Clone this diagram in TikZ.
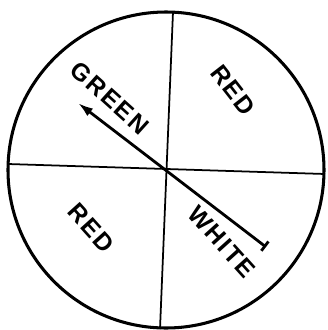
\documentclass[tikz,border=0pt]{standalone}
\usepackage{fontspec}
\setsansfont{Liberation Sans}
\usetikzlibrary{arrows.meta}

\tikzset{
  rim/.style={line width=2.6pt, black},
  divider/.style={line width=1.5pt, black},
  pointer/.style={line width=2.4pt, black, {Bar[width=10pt]}-{Latex[length=13pt, width=8pt]}},
  sector/.style={font=\fontsize{21}{21}\sffamily\bfseries\addfontfeature{LetterSpace=8}, inner sep=0pt}
}

\begin{document}
\begin{tikzpicture}[x=0.03cm, y=-0.03cm]
  \useasboundingbox (0,0) rectangle (327,330);

  % Wheel rim
  \node[circle, minimum size=316*0.03cm, inner sep=0pt, rim, draw] (wheel) at (166,170) {};

  % Dividing lines through the hub
  \coordinate (hub) at (167,170);
  \coordinate (top) at (173,12);
  \coordinate (bottom) at (160,329);
  \coordinate (left) at (8,164);
  \coordinate (right) at (325,174);
  \draw[divider] (top) -- (bottom);
  \draw[divider] (left) -- (right);

  % Pointer
  \coordinate (tail) at (266,247);
  \coordinate (tip) at (78,103);
  \draw[pointer] (tail) -- (tip);

  % Sector labels
  \node[sector, rotate=-42] (green) at (110,98) {GREEN};
  \node[sector, rotate=-48] (white) at (222,242) {WHITE};
  \node[sector, rotate=-52] (red1) at (233,90) {RED};
  \node[sector, rotate=-48] (red2) at (91,228) {RED};
\end{tikzpicture}
\end{document}
